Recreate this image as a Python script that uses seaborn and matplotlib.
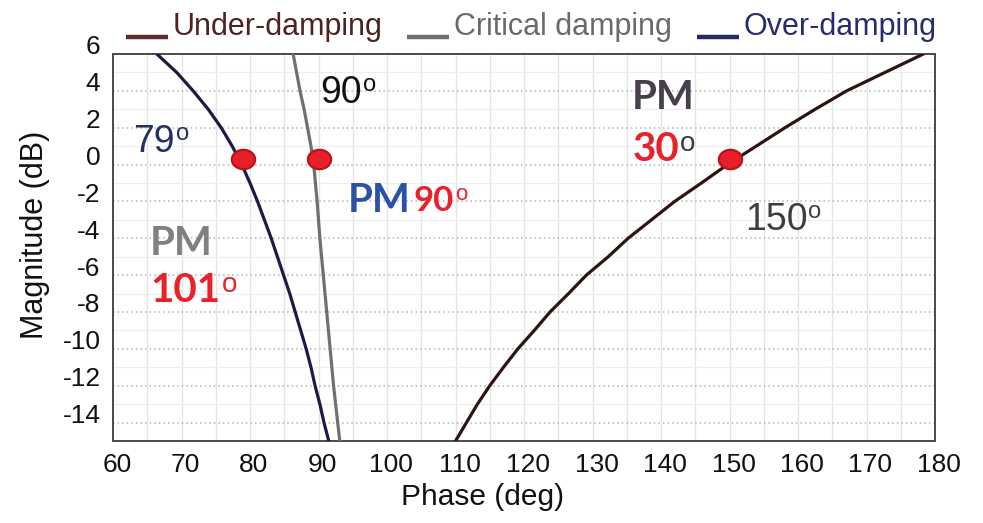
import numpy as np
import pandas as pd
import matplotlib
matplotlib.use("Agg")
import matplotlib.pyplot as plt
from matplotlib.lines import Line2D
from matplotlib.path import Path
from matplotlib.markers import MarkerStyle
from matplotlib.transforms import ScaledTranslation, Affine2D
from matplotlib import font_manager
import seaborn as sns

# Magnitude (dB) samples along each open-loop curve
mag_over = [6, 5, 4, 3, 2, 1, 0, -1, -2, -3, -4, -5, -6, -7, -8, -9, -10, -11, -12, -13, -14, -15]
phase_over = [66.4, 69.3, 71.7, 73.9, 75.8, 77.4, 78.8, 80.0, 81.1, 82.1, 83.1, 84.0,
              84.9, 85.8, 86.6, 87.4, 88.2, 88.9, 89.5, 90.2, 90.8, 91.5]

mag_crit = [6, 5, 4, 3, 2, 1, 0, -2, -4, -6, -8, -10, -12, -14, -15]
phase_crit = [86.3, 86.8, 87.3, 87.9, 88.4, 88.9, 89.3, 89.8, 90.2, 90.7, 91.2, 91.7,
              92.2, 92.8, 93.1]

mag_under = [-15, -14, -13, -12, -11, -10, -9, -8, -7, -6, -5, -4, -3, -2, -1, 0, 1, 2, 3, 4, 5, 6]
phase_under = [110.0, 111.6, 113.2, 115.0, 117.0, 119.1, 121.5, 123.8, 126.5, 129.1, 132.3,
               135.2, 138.6, 142.0, 145.9, 149.7, 153.9, 158.1, 162.5, 167.1, 172.7, 178.3]

# Unity-gain crossover points (phase in deg)
cross_phase = [79, 90, 150]
cross_mag = [0.3, 0.3, 0.3]

modes = ["Under-damping", "Critical damping", "Over-damping"]
line_colors = {"Under-damping": "#2b1412", "Critical damping": "#707070", "Over-damping": "#1b1c45"}
legend_line_colors = ["#5c2c2c", "#6e6e6e", "#25296a"]
legend_text_colors = ["#4e2222", "#6a6a6a", "#262b6c"]

x_ticks = list(range(60, 181, 10))
y_ticks = list(range(-14, 7, 2))

df = pd.concat([
    pd.DataFrame({"phase": phase_under, "mag": mag_under, "mode": "Under-damping"}),
    pd.DataFrame({"phase": phase_crit, "mag": mag_crit, "mode": "Critical damping"}),
    pd.DataFrame({"phase": phase_over, "mag": mag_over, "mode": "Over-damping"}),
], ignore_index=True)

sns.set_theme(style="white")
available = {f.name for f in font_manager.fontManager.ttflist}
sans = "Liberation Sans" if "Liberation Sans" in available else "DejaVu Sans"
boldfam = "Lato" if "Lato" in available else sans
plt.rcParams["font.family"] = [sans, "DejaVu Sans"]

DPI = 100
fig = plt.figure(figsize=(9.83, 5.23), dpi=DPI)
fig.patch.set_facecolor("white")
ax = fig.add_axes([113 / 983, 1 - 441 / 523, (935 - 113) / 983, (441 - 54) / 523])

ax.set_xlim(60, 180)
ax.set_ylim(-15, 6)
ax.set_xticks(x_ticks)
ax.set_xticks(np.arange(65, 180, 10), minor=True)
ax.set_yticks(y_ticks)
ax.set_yticks(np.arange(-15, 6, 2), minor=True)

# grid: light solid verticals every 5 deg, dotted horizontals every 2 dB
for xv in np.arange(65, 180, 5):
    ax.axvline(xv, color="#e4e4e4", lw=0.9, zorder=0)
for yv in y_ticks:
    ax.axhline(yv, color="#b4b4b4", lw=1.1, ls=(0, (1, 2)), zorder=0)
for yv in np.arange(-13, 6, 2):
    ax.axhline(yv, color="#eeeeee", lw=0.8, zorder=0)

sns.lineplot(data=df, x="phase", y="mag", hue="mode", palette=line_colors,
             sort=False, estimator=None, lw=2.3, legend=False, ax=ax, zorder=3)

# ellipse marker for crossover dots
ell = Path.unit_circle().transformed(Affine2D().scale(1.2, 1.0))
sns.scatterplot(x=cross_phase, y=cross_mag, marker=MarkerStyle(ell), s=280,
                color="#e61f28", edgecolor="#b8141c", linewidth=1.6, ax=ax, zorder=5)

for sp in ax.spines.values():
    sp.set_color("#4a4a4a")
    sp.set_linewidth(1.4)
    sp.set_visible(True)

ax.tick_params(axis="both", which="major", direction="out", length=6, width=1.2,
               color="#4a4a4a", labelsize=19, labelcolor="#111111", pad=3)
ax.tick_params(axis="both", which="minor", direction="out", length=3.5, width=1.0,
               color="#4a4a4a")
ax.set_xticklabels([str(v) for v in x_ticks])
ax.set_yticklabels([str(v) for v in y_ticks])
for lbl in ax.get_yticklabels():
    lbl.set_transform(lbl.get_transform() + ScaledTranslation(0, 9 / DPI, fig.dpi_scale_trans))
for lbl in ax.get_xticklabels():
    lbl.set_transform(lbl.get_transform() + ScaledTranslation(4 / DPI, 0, fig.dpi_scale_trans))

ax.set_xlabel("Phase (deg)", fontsize=21.5, color="#111111")
ax.set_ylabel("Magnitude (dB)", fontsize=22, color="#111111")
ax.xaxis.set_label_coords((483 - 113) / 822, -(483 - 441) / 387)
ax.yaxis.set_label_coords(-(113 - 50) / 822, (441 - 235) / 387)


def label(x, y, s, color, size, weight="normal", family=None, sup_color=None,
          sup_size=None, gap=2, drop=1.5):
    t = ax.text(x, y, s, color=color, fontsize=size, fontweight=weight,
                family=family or sans, ha="left", va="center", zorder=6)
    sup_size = sup_size or size * 0.62
    ax.annotate("o", xy=(1, 1), xycoords=t,
                xytext=(gap, -(0.52 * sup_size) - 1.5 - drop), textcoords="offset points",
                ha="left", va="baseline", color=sup_color or color,
                fontsize=sup_size, family=sans, zorder=6)
    return t


label(62.9, 1.25, "79", "#24315e", 27, sup_size=17, gap=1)
label(90.2, 3.9, "90", "#111111", 27, sup_size=17, gap=1)
label(152.3, -3.0, "150", "#3e3e3e", 27, sup_size=17, gap=0)

ax.text(65.4, -4.3, "PM", color="#808080", fontsize=29, fontweight="bold",
        family=boldfam, ha="left", va="center", zorder=6)
label(65.4, -6.85, "101", "#e8212a", 29, weight="bold", family=boldfam, sup_size=20,
      gap=1, drop=2.5)

ax.text(94.3, -1.96, "PM", color="#2c51a6", fontsize=29, fontweight="bold",
        family=boldfam, ha="left", va="center", zorder=6)
label(103.8, -1.96, "90", "#e8212a", 25, weight="bold", family=boldfam, sup_size=16,
      gap=1, drop=1.5)

ax.text(135.8, 3.64, "PM", color="#483f4c", fontsize=29, fontweight="bold",
        family=boldfam, ha="left", va="center", zorder=6)
label(135.8, 0.8, "30", "#e8212a", 29, weight="bold", family=boldfam,
      sup_color="#3a3a3a", sup_size=20, gap=1, drop=2.5)

handles = [Line2D([0], [0], color=c, lw=3.2, solid_capstyle="butt") for c in legend_line_colors]
leg = fig.legend(handles, modes, loc="center left", bbox_to_anchor=(126 / 983, 1 - 27 / 523),
                 ncol=3, frameon=False, handlelength=1.37, handletextpad=0.17,
                 columnspacing=0.8, borderpad=0, borderaxespad=0,
                 prop={"family": sans, "size": 22})
for txt, c in zip(leg.get_texts(), legend_text_colors):
    txt.set_color(c)
# legend strokes sit on the text baseline
for h in leg.legend_handles:
    h.set_transform(h.get_transform() + ScaledTranslation(0, -13 / DPI, fig.dpi_scale_trans))

fig.savefig("out.png", dpi=DPI, facecolor="white")
